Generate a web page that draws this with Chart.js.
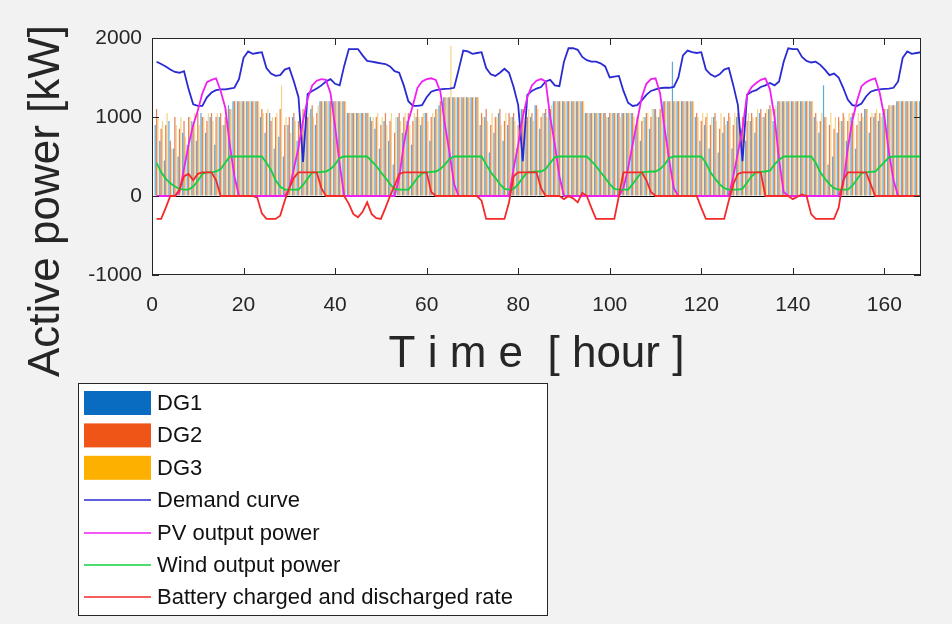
<!DOCTYPE html>
<html>
<head>
<meta charset="utf-8">
<script src="https://cdn.jsdelivr.net/npm/chart.js@4"></script>
<style>
  html, body { margin: 0; padding: 0; background: #f2f2f2; }
  canvas { display: block; }
</style>
</head>
<body>
<canvas id="canvas" width="952" height="624"></canvas>
<script>
// hourly values, hour 1 .. 168
const hours = Array.from({length: 168}, (_, i) => i + 1);

const demand = [
  1700,1670,1640,1600,1570,1560,1580,1350,1160,1140,1140,1250,1310,1340,1350,1350,1360,1370,1480,1750,1830,1800,1810,1820,
  1620,1550,1520,1530,1600,1620,1450,1250,430,1290,1330,1360,1400,1450,1480,1420,1400,1650,1860,1860,1860,1780,1710,1700,
  1690,1680,1670,1640,1580,1560,1400,1200,1140,1140,1150,1250,1320,1340,1350,1355,1360,1370,1600,1840,1830,1800,1810,1820,
  1620,1540,1520,1560,1610,1560,1380,1150,440,1280,1330,1360,1380,1450,1470,1400,1390,1700,1870,1870,1850,1760,1720,1700,
  1700,1680,1640,1500,1510,1520,1330,1180,1140,1150,1210,1280,1330,1350,1365,1370,1370,1380,1500,1780,1840,1820,1810,1820,
  1600,1540,1510,1540,1600,1620,1400,1150,440,1280,1320,1340,1380,1400,1430,1400,1450,1700,1870,1860,1860,1760,1710,1690,
  1700,1660,1600,1530,1550,1500,1370,1220,1150,1140,1170,1260,1320,1340,1350,1355,1360,1370,1450,1750,1830,1800,1810,1820
];

const pv = [
  0,0,0,0,0,50,350,650,900,1080,1300,1440,1470,1490,1330,1120,650,250,0,0,0,0,0,0,
  0,0,0,0,0,100,350,610,950,1230,1400,1460,1480,1470,1300,880,400,0,0,0,0,0,0,0,
  0,0,0,0,0,230,650,950,1150,1370,1450,1480,1490,1470,1320,900,550,150,0,0,0,0,0,0,
  0,0,0,0,0,0,350,650,1000,1250,1400,1460,1480,1450,1000,650,250,0,0,0,0,0,0,0,
  0,0,0,0,0,0,100,350,650,950,1250,1420,1480,1490,1300,850,450,100,0,0,0,0,0,0,
  0,0,0,0,0,0,250,550,850,1280,1380,1430,1470,1490,1350,1000,450,50,0,0,0,0,0,0,
  0,0,0,0,0,0,150,600,950,1200,1390,1440,1470,1490,1300,1000,550,200,0,0,0,0,0,0
];

const wind = [
  420,300,220,160,120,90,80,80,120,190,280,300,300,310,340,420,500,500,500,500,500,500,500,500,
  420,330,200,120,80,80,80,80,140,220,300,300,305,310,340,400,480,500,500,500,500,500,500,440,
  380,300,230,150,90,80,80,80,150,230,290,300,305,310,340,400,470,500,500,500,500,500,500,500,
  400,300,230,150,90,80,90,150,230,300,305,310,310,340,420,490,500,500,500,500,500,500,500,440,
  380,300,230,150,90,80,80,80,150,230,300,305,310,310,340,400,480,500,500,500,500,500,500,500,
  420,300,220,150,100,80,80,80,90,170,250,300,305,310,320,400,460,500,500,500,500,500,500,500,
  420,300,220,150,100,80,80,80,130,210,290,300,305,310,370,430,490,500,500,500,500,500,500,500
];

const battery = [
  -290,-290,-150,0,0,80,250,280,200,280,300,300,300,200,0,0,0,0,0,0,0,0,-20,-220,
  -290,-290,-290,-250,-60,100,230,300,300,300,300,300,100,0,0,0,0,0,-100,-230,-270,-200,-80,-230,
  -280,-290,-150,0,130,280,300,300,300,300,300,300,50,0,0,0,0,0,0,0,0,0,0,-60,
  -290,-290,-290,-290,-290,-80,250,300,300,300,300,300,100,0,0,0,0,-40,0,-30,-80,40,0,-150,
  -290,-290,-290,-290,-290,0,300,300,300,300,300,200,50,0,0,0,0,0,0,0,0,0,0,-150,
  -290,-290,-290,-290,-290,-60,150,280,300,300,300,300,300,0,0,0,0,0,0,-40,-10,20,0,-230,
  -290,-290,-290,-290,-290,-150,200,300,300,300,300,300,150,0,0,0,0,0,0,0,0,0,0,0
];

const dg1 = [
  900,700,450,950,600,500,800,650,950,700,1050,800,1000,650,1000,900,1150,1200,1200,1200,1200,1200,1200,1000,
  800,1050,600,750,500,900,1000,700,850,1150,1100,900,1200,1200,1200,1200,1200,1200,1050,1050,1050,1050,1050,1000,
  850,600,950,700,400,1000,800,950,650,1000,900,1050,700,1000,1150,1250,1250,1250,1250,1250,1250,1250,1250,900,
  1000,550,800,1050,700,900,1000,600,1100,950,1000,1150,850,1050,1100,1200,1200,1200,1200,1200,1200,1200,1050,1050,
  1050,1050,1050,1000,1050,1050,1050,1050,1050,900,700,1000,850,1100,1000,1200,1200,1700,1200,1200,1200,1200,1000,700,
  900,600,1000,550,800,950,600,1000,850,700,950,800,1050,1000,1100,950,1200,1200,1200,1200,1200,1200,1200,1200,
  1000,800,1400,400,500,800,950,700,1000,600,950,1100,800,1000,950,1050,1100,1150,1200,1200,1200,1200,1200,1200
];

const dg2 = [
  1100,850,900,700,1000,850,950,1000,900,1050,1000,950,1050,1000,1050,1000,1100,1200,1200,1200,1200,1200,1200,1100,
  1050,950,1000,1100,900,1000,1050,950,1100,1000,1150,1050,1200,1200,1200,1200,1200,1200,1050,1050,1050,1050,1050,950,
  1000,900,1050,950,800,1050,1000,1050,950,1100,1000,1050,1000,1100,1200,1250,1250,1250,1250,1250,1250,1250,1250,1050,
  1100,900,1000,1100,950,1050,1050,900,1100,1000,1050,1150,1000,1100,1100,1200,1200,1200,1200,1200,1200,1200,1050,1050,
  1050,1050,1050,1050,1050,1050,1050,1050,1050,1000,950,1050,1000,1100,1100,1200,1200,1200,1200,1200,1200,1200,1050,950,
  1000,900,1050,850,1000,1050,900,1050,1000,950,1050,1000,1100,1050,1150,1100,1200,1200,1200,1200,1200,1200,1200,1200,
  1050,950,1000,900,850,1000,1050,950,1050,900,1050,1100,1000,1050,1050,1100,1150,1150,1200,1200,1200,1200,1200,1200
];

const dg3 = [
  1000,950,1050,600,900,1000,750,1000,1050,900,1000,1050,950,1050,900,1100,1100,1200,1200,1200,1200,1200,1200,1050,
  1100,1000,1050,1400,1000,800,950,1000,700,1050,1000,1150,1200,1200,1200,1200,1200,1200,1050,1050,1050,1050,1050,1000,
  1050,1000,900,1050,1000,950,1050,900,1050,1000,1050,950,1050,1100,1100,1250,1900,1250,1250,1250,1250,1250,1250,1000,
  950,1050,1000,900,1050,1000,950,1050,1000,1100,950,1100,1050,1000,1150,1200,1200,1200,1200,1200,1200,1200,1050,1050,
  1050,1050,1000,1050,1050,1000,1050,1050,1000,1050,1000,1050,1100,1000,1150,1200,1200,1200,1200,1200,1200,1200,1000,1050,
  1050,1000,950,1050,900,1000,1050,950,1000,1050,1000,1100,1000,1100,1100,1150,1200,1200,1200,1200,1200,1200,1200,1200,
  950,1050,1000,1050,1000,950,1000,1050,950,1050,1000,1100,1050,1100,1000,1100,1150,1150,1200,1200,1200,1200,1200,1200
];

const FONT = "'Liberation Sans', Arial, Helvetica, sans-serif";
const pts = arr => hours.map((h, i) => ({x: h, y: arr[i]}));

function bar(label, data, fill, solid) {
  return {type: 'bar', label: label, data: pts(data), backgroundColor: fill, legendColor: solid,
          borderWidth: 0, categoryPercentage: 0.9, barPercentage: 0.9, order: 10};
}
function line(label, data, color, order) {
  return {type: 'line', label: label, data: pts(data), borderColor: color, legendColor: color,
          borderWidth: 1.8, pointRadius: 0, fill: false, tension: 0, order: order};
}

// white axes box, inward ticks, box outline, rotated y label, boxed legend
const matlabFrame = {
  id: 'matlabFrame',
  beforeDraw(chart) {
    const {ctx, chartArea: a} = chart;
    ctx.save();
    ctx.fillStyle = '#ffffff';
    ctx.fillRect(a.left, a.top, a.right - a.left, a.bottom - a.top);
    ctx.restore();
  },
  afterDraw(chart) {
    const {ctx, chartArea: a, scales} = chart;
    const x = scales.x, y = scales.y;
    ctx.save();
    ctx.strokeStyle = '#262626';
    ctx.lineWidth = 1;
    ctx.beginPath();
    x.ticks.forEach(t => {
      const px = Math.round(x.getPixelForValue(t.value)) + 0.5;
      ctx.moveTo(px, a.bottom); ctx.lineTo(px, a.bottom - 7);
      ctx.moveTo(px, a.top); ctx.lineTo(px, a.top + 7);
    });
    y.ticks.forEach(t => {
      const py = Math.round(y.getPixelForValue(t.value)) + 0.5;
      ctx.moveTo(a.left, py); ctx.lineTo(a.left + 7, py);
      ctx.moveTo(a.right, py); ctx.lineTo(a.right - 7, py);
    });
    ctx.stroke();
    ctx.strokeRect(Math.round(a.left) + 0.5, Math.round(a.top) + 0.5,
                   Math.round(a.right - a.left) - 1, Math.round(a.bottom - a.top) - 1);

    // y label
    ctx.save();
    ctx.translate(47, 201);
    ctx.rotate(-Math.PI / 2);
    ctx.fillStyle = '#262626';
    ctx.font = '44px ' + FONT;
    ctx.textAlign = 'center';
    ctx.textBaseline = 'middle';
    ctx.fillText('Active power [kW]', 0, 0);
    ctx.restore();

    // legend
    const L = {x: 78, y: 383, w: 469, h: 232, row: 32.4, first: 403};
    ctx.fillStyle = '#ffffff';
    ctx.fillRect(L.x, L.y, L.w, L.h);
    ctx.strokeStyle = '#262626';
    ctx.lineWidth = 1;
    ctx.strokeRect(L.x + 0.5, L.y + 0.5, L.w, L.h);
    ctx.font = '22px ' + FONT;
    ctx.textBaseline = 'middle';
    ctx.textAlign = 'left';
    chart.data.datasets.forEach((ds, i) => {
      const cy = L.first + i * L.row;
      if (ds.type === 'bar') {
        ctx.fillStyle = ds.legendColor;
        ctx.fillRect(84, cy - 12, 67, 24);
      } else {
        ctx.strokeStyle = ds.legendColor;
        ctx.lineWidth = 1.5;
        ctx.beginPath();
        ctx.moveTo(84, Math.round(cy));
        ctx.lineTo(151, Math.round(cy));
        ctx.stroke();
      }
      ctx.fillStyle = '#111111';
      ctx.fillText(ds.label, 157, cy + 1);
    });
    ctx.restore();
  }
};

new Chart(document.getElementById('canvas'), {
  type: 'bar',
  data: {
    datasets: [
      bar('DG1', dg1, 'rgba(0,114,189,0.62)', '#0a6cc0'),
      bar('DG2', dg2, 'rgba(217,83,25,0.72)', '#f05518'),
      bar('DG3', dg3, 'rgba(237,177,32,0.55)', '#fdb000'),
      line('Demand curve', demand, '#2a2ad2', 4),
      line('PV output power', pv, '#f020f0', 3),
      line('Wind output power', wind, '#12d040', 2),
      line('Battery charged and discharged rate', battery, '#f42a2a', 1)
    ]
  },
  options: {
    responsive: false,
    animation: false,
    events: [],
    layout: {padding: {top: 38, right: 31, bottom: 239, left: 0}},
    plugins: {legend: {display: false}, tooltip: {enabled: false}},
    scales: {
      x: {
        type: 'linear', min: 0, max: 168, offset: false,
        grid: {display: false},
        border: {display: false},
        ticks: {stepSize: 20, includeBounds: false, autoSkip: false, maxRotation: 0,
                padding: 10, color: '#262626', font: {family: FONT, size: 21}},
        title: {display: true, text: 'T i m e  [ hour ]', color: '#262626',
                font: {family: FONT, size: 44}, padding: {top: 0, bottom: 4}},
        afterFit(s) { s.height = 110; }
      },
      y: {
        min: -1000, max: 2000,
        grid: {drawTicks: false, lineWidth: 1,
               color: c => c.tick.value === 0 ? '#000000' : 'rgba(0,0,0,0)'},
        border: {display: false},
        ticks: {stepSize: 1000, padding: 10, color: '#262626', font: {family: FONT, size: 21},
                callback: v => String(v)},
        afterFit(s) { s.width = 152; }
      }
    }
  },
  plugins: [matlabFrame]
});
</script>
</body>
</html>
